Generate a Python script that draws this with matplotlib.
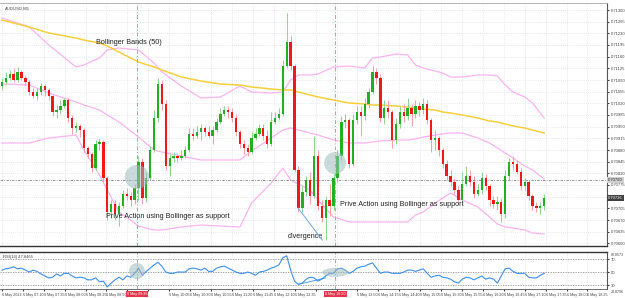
import numpy as np
import matplotlib
matplotlib.use("Agg")
import matplotlib.pyplot as plt
from matplotlib.patches import Ellipse

plt.rcParams['font.family'] = ['Liberation Sans', 'DejaVu Sans']

# ---- data (prices in points, 1 point = 0.00001) ----
open0 = 71072
close_pts = [71084, 71096, 71108, 71090, 71114, 71096, 71084, 71054, 71042, 71054,
             71072, 71060, 71042, 70994, 71000, 71012, 71030, 70976, 70946, 70952,
             70940, 70886, 70868, 70826, 70898, 70904, 70796, 70694, 70718, 70688,
             70712, 70748, 70742, 70730, 70766, 70844, 70736, 70796, 70880, 70976,
             71078, 71018, 70832, 70856, 70862, 70856, 70862, 70880, 70928, 70922,
             70934, 70946, 70934, 70922, 70940, 70964, 70988, 71000, 70994, 70976,
             70934, 70898, 70886, 70874, 70916, 70928, 70946, 70922, 70898, 70964,
             70976, 70988, 71132, 71204, 71132, 70820, 70706, 70754, 70790, 70742,
             70862, 70712, 70676, 70730, 70712, 70796, 70862, 70964, 70970, 70838,
             70970, 70994, 70982, 71018, 71054, 71114, 71096, 70976, 71006, 70994,
             70910, 70958, 70994, 70982, 71006, 70988, 71012, 71000, 71018, 70970,
             70910, 70916, 70880, 70838, 70802, 70784, 70760, 70730, 70778, 70802,
             70784, 70748, 70760, 70796, 70772, 70730, 70718, 70724, 70688, 70802,
             70844, 70838, 70814, 70772, 70784, 70742, 70712, 70706, 70712, 70736]
high_pts = [71096, 71114, 71120, 71126, 71129, 71120, 71105, 71090, 71066, 71066,
            71081, 71078, 71066, 71045, 71015, 71030, 71036, 71036, 70985, 70964,
            70958, 70946, 70892, 70874, 70910, 70916, 70910, 70802, 70730, 70730,
            70724, 70760, 70766, 70754, 70778, 70862, 70856, 70814, 70892, 71000,
            71096, 71090, 71030, 70868, 70874, 70868, 70880, 70892, 70946, 70946,
            70952, 70958, 70952, 70952, 70952, 70976, 71006, 71012, 71012, 71006,
            70988, 70940, 70910, 70898, 70934, 70946, 70958, 70958, 70940, 70994,
            70994, 71006, 71150, 71291, 71222, 71138, 70832, 70772, 70802, 70814,
            70922, 70880, 70730, 70742, 70778, 70808, 70880, 70982, 70988, 70976,
            70988, 71012, 71012, 71036, 71066, 71132, 71126, 71108, 71030, 71030,
            71000, 70976, 71012, 71018, 71036, 71018, 71030, 71024, 71036, 71030,
            70976, 70940, 70922, 70886, 70850, 70820, 70796, 70772, 70814, 70832,
            70820, 70802, 70778, 70814, 70808, 70778, 70742, 70742, 70736, 70820,
            70856, 70862, 70850, 70826, 70796, 70790, 70748, 70724, 70724, 70748]
low_pts = [71060, 71078, 71090, 71084, 71084, 71090, 71075, 71045, 71036, 71030,
           71045, 71042, 71030, 70982, 70976, 70988, 71006, 70964, 70928, 70934,
           70919, 70874, 70856, 70814, 70820, 70880, 70784, 70670, 70676, 70670,
           70652, 70706, 70730, 70712, 70718, 70730, 70718, 70724, 70790, 70874,
           70964, 71000, 70820, 70802, 70844, 70844, 70850, 70856, 70874, 70910,
           70916, 70910, 70922, 70916, 70898, 70934, 70958, 70982, 70976, 70964,
           70922, 70886, 70868, 70862, 70868, 70910, 70922, 70910, 70886, 70892,
           70958, 70970, 70982, 71126, 71120, 70814, 70694, 70694, 70742, 70718,
           70736, 70700, 70664, 70610, 70682, 70700, 70784, 70850, 70946, 70826,
           70832, 70958, 70922, 70970, 71006, 71048, 71078, 70964, 70958, 70976,
           70886, 70898, 70946, 70964, 70970, 70952, 70976, 70982, 70988, 70958,
           70874, 70880, 70862, 70826, 70790, 70772, 70748, 70718, 70724, 70772,
           70772, 70736, 70742, 70748, 70760, 70712, 70706, 70700, 70664, 70676,
           70790, 70820, 70808, 70760, 70760, 70730, 70700, 70694, 70688, 70700]

rsi = [53, 55, 56, 58, 55, 56, 53, 50, 53, 51, 47, 44, 41, 42, 47, 44, 48, 48, 44, 41,
       42, 41, 38, 38, 41, 35, 36, 27, 33, 38, 42, 38, 44, 42, 48, 56, 45, 51, 56, 61,
       65, 59, 50, 48, 48, 50, 50, 50, 55, 56, 55, 53, 56, 51, 51, 56, 58, 59, 56, 53,
       50, 48, 48, 50, 48, 45, 50, 51, 53, 56, 58, 61, 72, 75, 53, 36, 31, 33, 39, 42,
       41, 36, 39, 44, 48, 48, 55, 56, 53, 48, 51, 56, 58, 59, 62, 64, 56, 48, 50, 50,
       48, 48, 48, 50, 53, 53, 51, 53, 55, 48, 42, 44, 45, 42, 41, 39, 35, 33, 39, 42,
       41, 38, 41, 44, 39, 41, 39, 33, 44, 55, 56, 51, 48, 48, 48, 42, 41, 41, 45, 48]

# indicator lines, read at these bar indices
ind_idx = [0, 7, 12, 19, 21, 25, 27, 30, 35, 39, 41, 46, 51, 56, 61, 64, 69, 72, 74, 76,
           79, 81, 85, 89, 93, 95, 97, 101, 104, 106, 108, 111, 113, 115, 118, 122, 125,
           127, 129, 131, 134, 136, 139]
bb_upper = [71276, 71249, 71195, 71129, 71135, 71156, 71180, 71186, 71180, 71141,
            71114, 71072, 71036, 71039, 71072, 71054, 71051, 71054, 71090, 71105,
            71105, 71108, 71129, 71132, 71126, 71156, 71159, 71168, 71165, 71135,
            71126, 71117, 71111, 71099, 71099, 71105, 71105, 71102, 71075, 71054,
            71039, 71021, 70976]
bb_mid = [71078, 71075, 71051, 71024, 71015, 71000, 70985, 70964, 70919, 70880,
          70874, 70862, 70850, 70850, 70850, 70877, 70916, 70940, 70946, 70940,
          70931, 70925, 70910, 70901, 70901, 70904, 70907, 70910, 70910, 70913,
          70919, 70925, 70928, 70931, 70931, 70916, 70901, 70886, 70871, 70856,
          70832, 70820, 70793]
bb_lower = [70901, 70901, 70916, 70925, 70880, 70805, 70760, 70694, 70652, 70640,
            70640, 70649, 70655, 70652, 70649, 70721, 70781, 70826, 70790, 70778,
            70760, 70730, 70679, 70664, 70664, 70664, 70664, 70664, 70664, 70685,
            70694, 70721, 70736, 70751, 70730, 70709, 70679, 70658, 70649, 70646,
            70640, 70631, 70628]
ma200 = [71270, 71249, 71231, 71216, 71210, 71201, 71192, 71174, 71144, 71129,
         71120, 71099, 71087, 71078, 71075, 71069, 71063, 71060, 71060, 71054,
         71045, 71039, 71030, 71021, 71018, 71015, 71015, 71012, 71009, 71006,
         71003, 71000, 70994, 70991, 70985, 70976, 70967, 70964, 70958, 70952,
         70946, 70940, 70931]

price_ticks = [0.71300 - 0.00035 * k for k in range(21)]
time_labels = ['6 May 2022', '6 May 07:10', '6 May 07:35', '6 May 08:00', '6 May 08:25',
               '6 May 08:50', '6 May 09:15', '6 May 09:40', '6 May 10:05', '6 May 10:30',
               '6 May 10:55', '6 May 11:20', '6 May 11:45', '6 May 12:10', '6 May 12:35',
               '6 May 13:00', '6 May 13:25', '6 May 13:50', '6 May 14:15', '6 May 14:40',
               '6 May 15:05', '6 May 15:30', '6 May 15:55', '6 May 16:20', '6 May 16:45',
               '6 May 17:10', '6 May 17:35', '6 May 18:00', '6 May 18:25']
marker_times = ['6 May 09:35', '6 May 16:50']

# ---- derived arrays ----
close = np.array(close_pts) / 1e5
opn = np.array([open0] + close_pts[:-1]) / 1e5
high = np.maximum(np.array(high_pts) / 1e5, np.maximum(opn, close))
low = np.minimum(np.array(low_pts) / 1e5, np.minimum(opn, close))
idx = np.arange(len(close))
up = close >= opn

W, H = 625, 298
fig = plt.figure(figsize=(W / 100, H / 100), dpi=100)
fig.patch.set_facecolor('white')
ax = fig.add_axes([0, 1 - 246 / H, 607 / W, 243 / H])
ax2 = fig.add_axes([0, 1 - 289 / H, 607 / W, 37 / H], sharex=ax)

green, red = '#22b022', '#f01818'
ax.vlines(idx[up], low[up], high[up], color='#8fd48f', lw=0.7, zorder=2)
ax.vlines(idx[~up], low[~up], high[~up], color='#f5a0a8', lw=0.7, zorder=2)
ax.bar(idx[up], close[up] - opn[up], bottom=opn[up], width=0.6, color=green, zorder=3)
ax.bar(idx[~up], close[~up] - opn[~up], bottom=opn[~up], width=0.6, color=red, zorder=3)

bx = np.array(ind_idx)
pink = '#fbb3f1'
for band in (bb_upper, bb_mid, bb_lower):
    ax.plot(bx, np.array(band) / 1e5, color=pink, lw=0.9, zorder=1)
ax.plot(bx, np.array(ma200) / 1e5, color='#f7cf3c', lw=1.1, zorder=1)

ax.set_xlim(-0.5, 155.1)
ax.set_ylim(0.70592, 0.71321)

for a in (ax, ax2):
    a.set_facecolor('white')
    a.grid(True, color='#dfe4ea', lw=0.5, ls=(0, (1.5, 1.5)))
    a.set_axisbelow(True)
    for s in ('left', 'top'):
        a.spines[s].set_visible(False)
    a.spines['right'].set_color('#555555')
    a.spines['right'].set_linewidth(0.8)

ax.spines['bottom'].set_color('#333333')
ax.spines['bottom'].set_linewidth(1.0)
ax.spines['top'].set_visible(True)
ax.spines['top'].set_color('#aaaaaa')
ax.spines['top'].set_linewidth(0.6)

# price labels (skip those hidden under the price boxes)
cross_price = 0.70790
ax.yaxis.tick_right()
ax.set_yticks(price_ticks)
ax.set_yticklabels([f'{p:.5f}' if min(abs(p - cross_price), abs(p - close[-1])) > 0.00012 else ''
                    for p in price_ticks])
ax.tick_params(axis='y', labelsize=3, length=1.5, pad=1, colors='#444444')
ax.tick_params(axis='x', labelbottom=False, length=0)

ax.axhline(cross_price, color='#888888', lw=0.6, ls=(0, (3, 1.5, 1, 1.5)))
ax.text(1.002, cross_price, f'{cross_price:.5f}', transform=ax.get_yaxis_transform(), fontsize=3,
        va='center', ha='left', color='#222222', bbox=dict(fc='#cfcfcf', ec='none', pad=0.6))
ax.text(1.002, close[-1], f'{close[-1]:.5f}', transform=ax.get_yaxis_transform(), fontsize=3,
        va='center', ha='left', color='white', bbox=dict(fc='#404040', ec='none', pad=0.6))

vlines_at = [34.6, 85.4]
for v in vlines_at:
    for a in (ax, ax2):
        a.axvline(v, color='#f08a9a', lw=0.7, ls=(0, (4, 2, 1, 2)), zorder=1)

# highlight circles
ax.add_patch(Ellipse((34.6, 0.70799), 6.2, 0.00072, color='#9fbcbc', alpha=0.55, lw=0, zorder=4))
ax.add_patch(Ellipse((85.4, 0.70841), 5.6, 0.00066, color='#9fbcbc', alpha=0.55, lw=0, zorder=4))

# divergence line
ax.plot([75.9, 82.1], [0.70706, 0.70610], color='#6fa9e6', lw=0.7, zorder=4)

# annotations
fs = 5.2
ax.text(24.1, 0.71204, 'Bollinger Bands (50)', fontsize=fs, va='center', color='#222222')
ax.text(26.7, 0.70682, 'Prive Action using Bollinger as support', fontsize=fs, va='center', color='#222222')
ax.text(86.7, 0.70715, 'Prive Action using Bollinger as support', fontsize=fs, va='center', color='#222222')
ax.text(73.3, 0.70622, 'divergence', fontsize=fs, va='center', color='#222222')
ax.text(0.008, 0.985, 'AUDUSD,M5', transform=ax.transAxes, fontsize=3, va='top', color='#444444')

# ---- RSI panel ----
rsi_lo, rsi_hi = 23.8796, 80.8573
ax2.plot(idx, rsi, color='#3c8fef', lw=0.8, zorder=3)
for lvl in (70, 50, 30):
    ax2.axhline(lvl, color='#999999', lw=0.6, ls=(0, (1.5, 1.5)))
ax2.set_ylim(rsi_lo, rsi_hi)
ax2.yaxis.tick_right()
ax2.set_yticks([70, 50, 30])
ax2.set_yticklabels(['70', '50', '30'])
ax2.tick_params(axis='y', labelsize=3, length=1.5, pad=1, colors='#444444')
ax2.spines['top'].set_visible(True)
ax2.spines['top'].set_color('#333333')
ax2.spines['top'].set_linewidth(1.0)
ax2.spines['bottom'].set_color('#555555')
ax2.spines['bottom'].set_linewidth(0.6)
ax2.text(1.006, 0.97, f'{rsi_hi:.4f}', transform=ax2.transAxes, fontsize=2.6, va='top', ha='left', color='#444444')
ax2.text(1.006, -0.02, f'{rsi_lo:.4f}', transform=ax2.transAxes, fontsize=2.6, va='top', ha='left', color='#444444')
ax2.text(0.005, 0.93, 'RSI(14) 47.8465', transform=ax2.transAxes, fontsize=3, va='top', color='#444444')

ax2.add_patch(Ellipse((34.6, 51.5), 4.1, 24.6, color='#9fbcbc', alpha=0.55, lw=0, zorder=4))
ax2.add_patch(Ellipse((85.4, 49.5), 6.7, 13.8, color='#9fbcbc', alpha=0.55, lw=0, zorder=4))
ax2.plot([76, 83], [31, 41], color='#3c8fef', lw=0.6, zorder=3)

tick_pos = [k * 5.36 for k in range(len(time_labels))]
shown = [lab if all(not (v - 7.2 < p < v + 3.4) for v in vlines_at) else ''
         for p, lab in zip(tick_pos, time_labels)]
ax2.set_xticks(tick_pos)
ax2.set_xticklabels(shown)
ax2.tick_params(axis='x', labelsize=2.7, length=1.5, pad=1.5, colors='#444444')
for lab in ax2.get_xticklabels():
    lab.set_horizontalalignment('left')

# crosshair time boxes
for v, lab in zip(vlines_at, marker_times):
    ax2.text(v, -0.08, lab, transform=ax2.get_xaxis_transform(), fontsize=2.7, ha='center', va='top',
             color='white', bbox=dict(fc='#e8344a', ec='none', pad=0.8), zorder=5)

fig.savefig('out.png', dpi=100, facecolor='white')
